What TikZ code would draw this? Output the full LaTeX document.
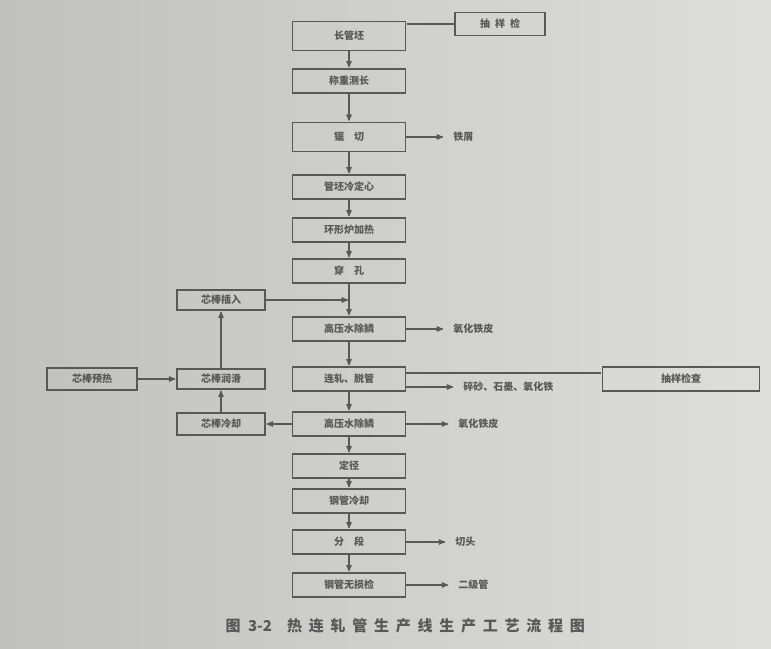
\documentclass[tikz,border=0pt]{standalone}
\usepackage{fontspec}
\setmainfont{Noto Sans CJK SC}
\usepackage{tikz}
\usetikzlibrary{arrows}
\usetikzlibrary{positioning}
\definecolor{inkgray}{RGB}{88,88,88}
\definecolor{paperlight}{RGB}{222,222,220}
\definecolor{paperdark}{RGB}{192,192,190}

\begin{document}
\begin{tikzpicture}[x=1pt,y=-1pt,>=stealth',shorten >=1pt,color=inkgray,
  proc node/.style={rectangle,draw,line width=1.3pt,minimum width=113pt,minimum height=24pt,inner sep=1pt,font=\fontsize{10}{12}\selectfont\bfseries},
  rod node/.style={proc node,minimum width=88pt,minimum height=20pt},
  out label/.style={inner sep=1pt,font=\fontsize{10}{12}\selectfont\bfseries},
  flow/.style={->,line width=1.3pt},
  waste/.style={->,line width=1.3pt,shorten >=9pt}]

  \useasboundingbox (0,0) rectangle (771,648);
  \shade[left color=paperdark,right color=paperlight] (0,0) rectangle (771,648);

  % main line
  \node[proc node,minimum height=29pt] (c1) at (349,36) {长管坯};
  \node[proc node] (c2) [below of=c1,node distance=45pt] {称重测长};
  \node[proc node,minimum height=29pt] (c3) [below of=c2,node distance=56pt] {锯\quad 切};
  \node[proc node] (c4) [below of=c3,node distance=50pt] {管坯冷定心};
  \node[proc node] (c5) [below of=c4,node distance=43pt] {环形炉加热};
  \node[proc node] (c6) [below of=c5,node distance=41pt] {穿\quad 孔};
  \node[proc node] (c7) [below of=c6,node distance=58pt] {高压水除鳞};
  \node[proc node] (c8) [below of=c7,node distance=50pt] {连轧、脱管};
  \node[proc node] (c9) [below of=c8,node distance=45pt] {高压水除鳞};
  \node[proc node] (c10) [below of=c9,node distance=42pt] {定径};
  \node[proc node] (c11) [below of=c10,node distance=35pt] {钢管冷却};
  \node[proc node] (c12) [below of=c11,node distance=41pt] {分\quad 段};
  \node[proc node] (c13) [below of=c12,node distance=43pt] {钢管无损检};

  % sampling
  \node[proc node,minimum width=90pt,minimum height=23pt] (s1) at (500,24) {抽\enspace 样\enspace 检};
  \node[proc node,minimum width=157pt] (s2) at (681,379) {抽样检查};

  % mandrel loop
  \node[rod node] (k1) at (221,300) {芯棒插入};
  \node[rod node] (k2) at (221,379) {芯棒润滑};
  \node[rod node,minimum width=90pt,minimum height=22pt] (k3) at (92,379) {芯棒预热};
  \node[rod node,minimum height=22pt] (k4) at (221,424) {芯棒冷却};

  % waste
  \node[out label,right=46pt of c3] (o3) {铁屑};
  \node[out label,right=46pt of c7] (o7) {氧化铁皮};
  \node[out label,right=56pt of c8,yshift=-8pt] (o8) {碎砂、石墨、氧化铁};
  \node[out label,right=51pt of c9] (o9) {氧化铁皮};
  \node[out label,right=48pt of c12] (o12) {切头};
  \node[out label,right=51pt of c13] (o13) {二级管};

  \foreach \from/\to in {c1/c2,c2/c3,c3/c4,c4/c5,c5/c6,c6/c7,c7/c8,c8/c9,c9/c10,c10/c11,c11/c12,c12/c13}
    \draw[flow] (\from) -- (\to);

  \draw[line width=1.3pt] (s1.west) -- (s1.west -| c1.east);
  \draw[line width=1.3pt] ([yshift=6pt]c8.east) -- ([yshift=6pt]s2.west);

  \draw[flow] (k1.east) -- (k1 -| c6.center);
  \draw[flow] (k3) -- (k2);
  \draw[flow] (k2) -- (k1);
  \draw[flow] (k4) -- (k2);
  \draw[flow] (c9) -- (k4);

  \draw[waste] (c3) -- (o3);
  \draw[waste] (c7) -- (o7);
  \draw[waste] ([yshift=-8pt]c8.east) -- (o8);
  \draw[waste] (c9) -- (o9);
  \draw[waste] (c12) -- (o12);
  \draw[waste] (c13) -- (o13);

  \node[font=\fontsize{15}{18}\selectfont\bfseries,anchor=west] (cap) at (222,626) {图\enspace 3-2\quad {\addfontfeature{LetterSpace=45}热连轧管生产线生产工艺流程图}};

\end{tikzpicture}
\end{document}
